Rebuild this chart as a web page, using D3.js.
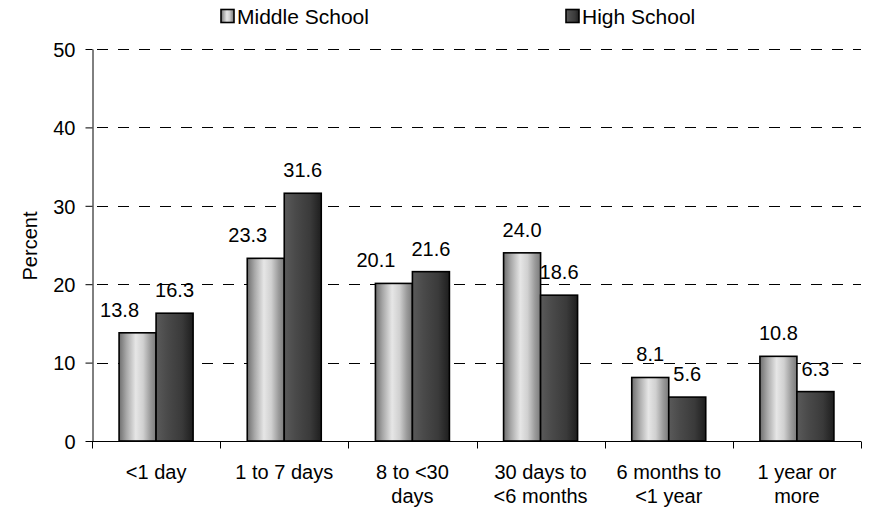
<!DOCTYPE html>
<html><head><meta charset="utf-8">
<script src="https://cdn.jsdelivr.net/npm/d3@7"></script>
<style>body{margin:0;background:#fff}svg{display:block}</style>
</head><body>
<svg id="c" width="869" height="508"></svg>
<script>
const categories = [["<1 day"],["1 to 7 days"],["8 to <30","days"],["30 days to","<6 months"],["6 months to","<1 year"],["1 year or","more"]];
const seriesNames = ["Middle School","High School"];
const middleSchool = [13.8,23.3,20.1,24.0,8.1,10.8];
const highSchool = [16.3,31.6,21.6,18.6,5.6,6.3];
const yTicks = [0,10,20,30,40,50];

const svg = d3.select("#c");
const defs = svg.append("defs");
function grad(id, stops){
  const g = defs.append("linearGradient").attr("id",id).attr("x1","0").attr("x2","1").attr("y1","0").attr("y2","0");
  stops.forEach(s=>g.append("stop").attr("offset",s[0]).attr("stop-color",s[1]));
}
grad("gMS",[[0,"#6e6e6e"],[0.2,"#a8a8a8"],[0.45,"#e6e6e6"],[0.65,"#d0d0d0"],[0.85,"#9a9a9a"],[1,"#7a7a7a"]]);
grad("gHS",[[0,"#5a5a5a"],[0.3,"#4a4a4a"],[0.7,"#3a3a3a"],[1,"#1e1e1e"]]);

const m = {l:92, r:861, t:49, b:441};
const x = d3.scaleBand().domain(d3.range(categories.length)).range([m.l,m.r]).paddingInner(0).paddingOuter(0);
const y = d3.scaleLinear().domain([0,50]).range([m.b,m.t]);
const barW = 37;
const font = "Liberation Sans, Arial, sans-serif";
const fs = 20;

// grid
svg.append("g").selectAll("line").data(yTicks.filter(d=>d>0)).join("line")
  .attr("x1",m.l).attr("x2",m.r).attr("y1",d=>Math.round(y(d))+0.5).attr("y2",d=>Math.round(y(d))+0.5)
  .attr("stroke","#000").attr("stroke-width",1).attr("stroke-dasharray","11,10").attr("stroke-dashoffset",-5);

// bars
const data = [];
categories.forEach((c,i)=>{
  data.push({i, s:0, v:middleSchool[i], other:highSchool[i]});
  data.push({i, s:1, v:highSchool[i], other:middleSchool[i]});
});
const bars = svg.append("g");
bars.selectAll("rect").data(data).join("rect")
  .attr("x",d=>x(d.i)+x.bandwidth()/2 - barW + d.s*barW)
  .attr("y",d=>y(d.v))
  .attr("width",barW)
  .attr("height",d=>y(0)-y(d.v))
  .attr("fill",d=>d.s===0?"url(#gMS)":"url(#gHS)")
  .attr("stroke","#000").attr("stroke-width",1.6);

// value labels; a Middle School label is nudged left when its High School neighbour is taller
bars.selectAll("text").data(data).join("text")
  .attr("x",d=>{
    let cx = x(d.i)+x.bandwidth()/2 - barW/2 + d.s*barW;
    if (d.s===0 && d.other > d.v) cx -= 18;
    return cx;
  })
  .attr("y",d=>y(d.v)-16)
  .attr("text-anchor","middle")
  .attr("font-family",font).attr("font-size",fs).attr("fill","#000")
  .text(d=>d.v.toFixed(1));

// y axis
const yAxis = d3.axisLeft(y).tickValues(yTicks).tickSize(7).tickPadding(10).tickSizeOuter(0);
const ya = svg.append("g").attr("transform",`translate(${m.l+0.5},0)`).call(yAxis);
ya.select(".domain").attr("stroke","#000");
ya.selectAll(".tick line").attr("stroke","#000");
ya.selectAll(".tick text").attr("font-family",font).attr("font-size",fs).attr("fill","#000").attr("dy","0.36em");

// x axis
const xa = svg.append("g").attr("transform",`translate(0,${m.b+0.5})`);
xa.append("line").attr("x1",m.l).attr("x2",m.r).attr("stroke","#000");
const bounds = d3.range(categories.length+1).map(i=> i<categories.length ? x(i) : x(i-1)+x.bandwidth());
xa.selectAll("line.t").data(bounds).join("line").attr("class","t")
  .attr("x1",d=>Math.round(d)+0.5).attr("x2",d=>Math.round(d)+0.5).attr("y1",0).attr("y2",7).attr("stroke","#000");
const lab = xa.selectAll("text").data(categories).join("text")
  .attr("transform",(d,i)=>`translate(${x(i)+x.bandwidth()/2},37)`)
  .attr("text-anchor","middle").attr("font-family",font)
  .attr("font-size",fs).attr("fill","#000");
lab.each(function(d){
  const t = d3.select(this);
  d.forEach((line,k)=>t.append("tspan").attr("x",0).attr("dy",k===0?0:24).text(line));
});

// y title
svg.append("text").attr("transform","translate(37,246) rotate(-90)")
  .attr("text-anchor","middle").attr("font-family",font).attr("font-size",fs).attr("fill","#000").text("Percent");

// legend
const legX = [221, 566];
const leg = svg.append("g");
seriesNames.forEach((n,i)=>{
  leg.append("rect").attr("x",legX[i]).attr("y",9.5).attr("width",13).attr("height",13)
    .attr("fill",i===0?"url(#gMS)":"url(#gHS)").attr("stroke","#000").attr("stroke-width",1.6);
  leg.append("text").attr("x",legX[i]+16).attr("y",24).attr("font-family",font).attr("font-size",21).attr("fill","#000").text(n);
});
</script>
</body></html>
